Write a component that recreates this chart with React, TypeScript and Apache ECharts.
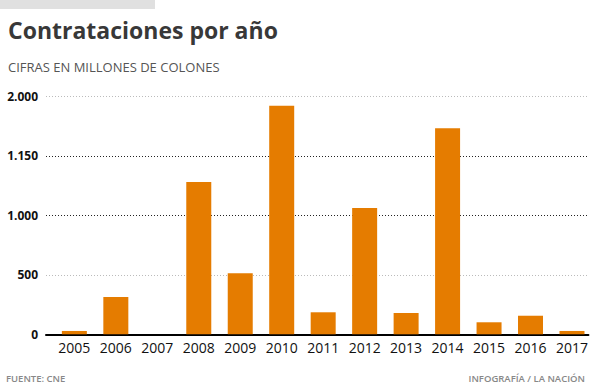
import React, { useEffect, useRef } from "react";
import * as echarts from "echarts";

const years = [2005, 2006, 2007, 2008, 2009, 2010, 2011, 2012, 2013, 2014, 2015, 2016, 2017];
const values = [28, 313, 0, 1280, 514, 1921, 185, 1062, 179, 1731, 101, 156, 28];
const yTickValues = [0, 500, 1000, 1500, 2000];
const yTickLabels = ["0", "500", "1.000", "1.150", "2.000"];

const title = "Contrataciones por año";
const subtitle = "CIFRAS EN MILLONES DE COLONES";
const source = "FUENTE: CNE";
const credit = "INFOGRAFÍA / LA NACIÓN";

const FONT = "'Open Sans', 'Noto Sans', sans-serif";

export default function App() {
  const ref = useRef<HTMLDivElement>(null);
  useEffect(() => {
    document.body.style.margin = "0";
    const chart = echarts.init(ref.current!, null, { renderer: "svg" });
    chart.setOption({
      animation: false,
      textStyle: { fontFamily: FONT },
      grid: { left: 46, right: 0, top: 96.3, height: 238 },
      xAxis: {
        type: "value",
        min: 2004.316,
        max: 2017.396,
        axisLine: { show: true, onZero: false, lineStyle: { color: "#000", width: 2 } },
        axisTick: { show: false },
        splitLine: { show: false },
        axisLabel: {
          customValues: years,
          formatter: (v: number) => String(v),
          color: "#111",
          fontSize: 14,
          fontFamily: FONT,
          margin: 6,
        },
      },
      yAxis: {
        type: "value",
        min: 0,
        max: 2000,
        interval: 500,
        axisLine: { show: false },
        axisTick: { show: false },
        axisLabel: {
          color: "#111",
          fontSize: 12,
          fontWeight: "bold",
          fontFamily: FONT,
          margin: 8,
          formatter: (v: number) => {
            const i = yTickValues.indexOf(v);
            return i >= 0 ? yTickLabels[i] : "";
          },
        },
        splitLine: {
          show: true,
          lineStyle: {
            color: ["#000", "#bbb", "#222", "#222", "#bbb"],
            width: 1,
            type: [1, 2],
          },
        },
      },
      series: [
        {
          type: "bar",
          data: years.map((y, i) => [y, values[i]]),
          barWidth: 25,
          itemStyle: { color: "#E57C00" },
          z: 1,
        },
      ],
      graphic: [
        {
          type: "rect",
          left: 0,
          top: 0,
          shape: { width: 155, height: 9 },
          style: { fill: "#e0e0e0" },
        },
        {
          type: "text",
          x: 8,
          y: 30,
          style: {
            text: title,
            font: `bold 23px ${FONT}`,
            fill: "#383838",
            verticalAlign: "middle",
          },
        },
        {
          type: "text",
          x: 8,
          y: 67,
          style: {
            text: subtitle,
            font: `13px ${FONT}`,
            fill: "#555",
            verticalAlign: "middle",
          },
        },
        {
          type: "text",
          x: 6,
          y: 378.5,
          style: {
            text: source,
            font: `600 9.5px ${FONT}`,
            fill: "#888",
            verticalAlign: "middle",
          },
        },
        {
          type: "text",
          x: 585,
          y: 378.5,
          style: {
            text: credit,
            font: `600 9.5px ${FONT}`,
            fill: "#888",
            align: "right",
            verticalAlign: "middle",
          },
        },
      ],
    });
    return () => chart.dispose();
  }, []);
  return <div ref={ref} style={{ width: 591, height: 385 }} />;
}
